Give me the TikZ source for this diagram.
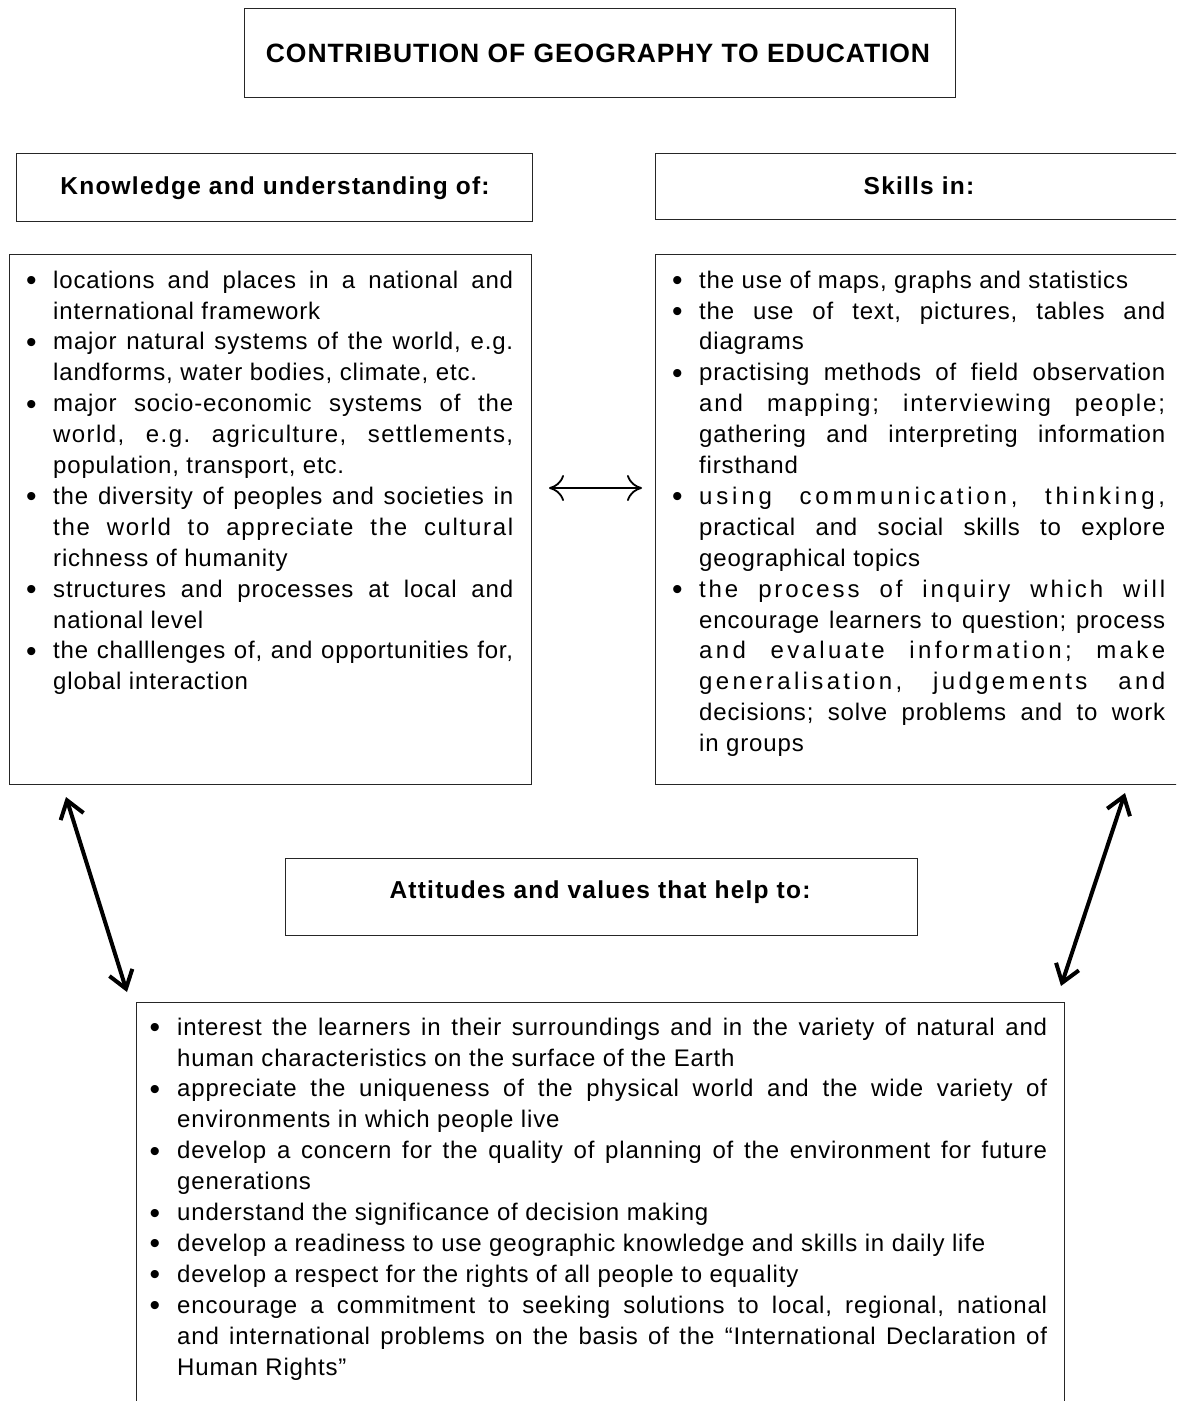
\documentclass[tikz,border=0pt]{standalone}
\usepackage{fontspec}
\setmainfont{Liberation Sans}[LetterSpace=3.5]
\newfontfamily\hdfont{Liberation Sans}[LetterSpace=5]
\newfontfamily\ttlfont{Liberation Sans}[LetterSpace=3.5]
\usetikzlibrary{arrows.meta}
\newlength\lstbw
\newlength\lstbo
\newcommand\lstsetup[2]{\setlength\lstbw{#1}\setlength\lstbo{#2}\tolerance=10000 \hbadness=10000 \hyphenpenalty=10000 \exhyphenpenalty=10000 \frenchspacing\relax}
\newcommand\bul{\par\noindent\hangindent=\lstbw\hangafter=1 \makebox[\lstbw][l]{\hspace{\lstbo}\raisebox{-2.5pt}{\fontsize{30}{30}\selectfont\textbullet}\rule{0pt}{20pt}}\ignorespaces}
\newcommand\wide[2]{{\addfontfeature{LetterSpace=#1}#2}}
\tikzset{
  box/.style={draw=black!85, line width=1.4pt, anchor=north west, inner sep=0pt},
  txt/.style={anchor=north west, inner sep=0pt, align=justify, font=\fontsize{24}{30.9}\selectfont},
  hd/.style={font=\hdfont\bfseries\fontsize{24.5}{28}\selectfont, anchor=base, inner sep=0pt},
  ttl/.style={font=\ttlfont\bfseries\fontsize{26.5}{30}\selectfont, anchor=base, inner sep=0pt},
  tarrow/.style={line width=4pt, {Straight Barb[length=17pt,width=24pt]}-{Straight Barb[length=17pt,width=24pt]}},
  harrow/.style={line width=1.8pt, {Computer Modern Rightarrow[length=15pt,width=26pt]}-{Computer Modern Rightarrow[length=15pt,width=26pt]}}
}
\begin{document}
\begin{tikzpicture}[x=1pt,y=-1pt]
\useasboundingbox (0,0) rectangle (1176,1401);
\begin{scope}
\clip (0,0) rectangle (1176,1401);
% boxes
\node[box, minimum width=711, minimum height=89] (titlebox) at (244,8) {};
\node[box, minimum width=516, minimum height=68] (khdbox) at (16,153) {};
\node[box, minimum width=535, minimum height=66] (shdbox) at (655,153) {};
\node[box, minimum width=522, minimum height=530] (kbox) at (9,254) {};
\node[box, minimum width=535, minimum height=530] (sbox) at (655,254) {};
\node[box, minimum width=632, minimum height=77] (ahdbox) at (285,858) {};
\node[box, minimum width=928, minimum height=430] (abox) at (136,1002) {};
% headings
\node[ttl] (title) at (598,62) {CONTRIBUTION OF GEOGRAPHY TO EDUCATION};
\node[hd] (khd) at (275,194) {Knowledge and understanding of:};
\node[hd] (shd) at (919,194) {Skills in:};
\node[hd] (ahd) at (600,898) {Attitudes and values that help to:};
% lists
\node[txt, text width=489pt] (klist) at (24,257) {\lstsetup{29pt}{2pt}%
\bul locations and places in a national and\linebreak international framework
\bul major natural systems of the world, e.g.\linebreak landforms, water bodies, climate, etc.
\bul major socio-economic systems of the\linebreak \wide{6}{world, e.g. agriculture, settlements,}\linebreak population, transport, etc.
\bul the diversity of peoples and societies in\linebreak \wide{7}{the world to appreciate the cultural}\linebreak richness of humanity
\bul structures and processes at local and\linebreak national level
\bul the challlenges of, and opportunities for,\linebreak global interaction\par};
\node[txt, text width=495pt] (slist) at (670,257) {\lstsetup{29pt}{2pt}%
\bul the use of maps, graphs and statistics
\bul the use of text, pictures, tables and\linebreak diagrams
\bul practising methods of field observation\linebreak \wide{8}{and mapping; interviewing people;}\linebreak gathering and interpreting information\linebreak firsthand
\bul \wide{16}{using communication, thinking,}\linebreak practical and social skills to explore\linebreak geographical topics
\bul \wide{12}{the process of inquiry which will}\linebreak encourage learners to question; process\linebreak \wide{14}{and evaluate information; make}\linebreak \wide{14}{generalisation, judgements and}\linebreak decisions; solve problems and to work\linebreak in groups\par};
\node[txt, text width=892pt] (alist) at (155,1004) {\lstsetup{22pt}{-5.5pt}%
\bul interest the learners in their surroundings and in the variety of natural and\linebreak human characteristics on the surface of the Earth
\bul appreciate the uniqueness of the physical world and the wide variety of\linebreak environments in which people live
\bul develop a concern for the quality of planning of the environment for future\linebreak generations
\bul understand the significance of decision making
\bul develop a readiness to use geographic knowledge and skills in daily life
\bul develop a respect for the rights of all people to equality
\bul encourage a commitment to seeking solutions to local, regional, national\linebreak and international problems on the basis of the ``International Declaration of\linebreak Human Rights''\par};
% arrows
\coordinate (h1) at (549,488);
\coordinate (h2) at (642,488);
\draw[harrow] (h1) -- (h2);
\coordinate (dl1) at (66,797);
\coordinate (dl2) at (127,992);
\draw[tarrow] (dl1) -- (dl2);
\coordinate (dr1) at (1125,793);
\coordinate (dr2) at (1061,986);
\draw[tarrow] (dr1) -- (dr2);
\end{scope}
\end{tikzpicture}
\end{document}
